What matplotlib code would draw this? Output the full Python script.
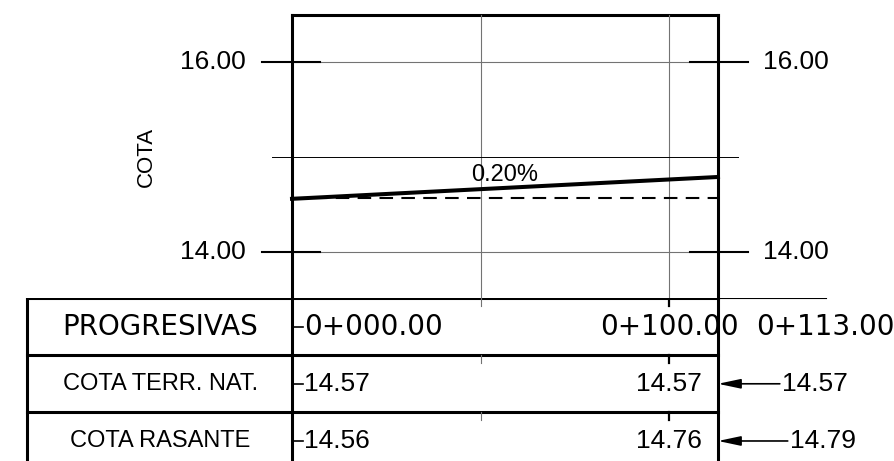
import matplotlib
matplotlib.use('Agg')
import matplotlib.pyplot as plt

# profile data (station in m, elevation in m)
stations = [0, 100, 113]
station_labels = ['0+000.00', '0+100.00', '0+113.00']
ground = [14.57, 14.57, 14.57]
grade = [14.56, 14.76, 14.79]
grade_text = '0.20%'
grid_stations = [50, 100]
elev_ticks = [14.0, 16.0]
elev_mid = 15.0
row_labels = ['PROGRESIVAS', 'COTA TERR. NAT.', 'COTA RASANTE']

NARROW = ['Liberation Sans', 'DejaVu Sans']
WIDE = ['DejaVu Sans']
GRAY = '0.45'

# layout (station units across the whole figure width)
x_lo, x_hi = -77.46, 159.95
end = stations[-1]

fig = plt.figure(figsize=(8.95, 4.61), dpi=100)
ax = fig.add_axes([0, 163 / 461, 1, 298 / 461])
tb = fig.add_axes([0, 0, 1, 163 / 461])
for a in (ax, tb):
    a.set_xlim(x_lo, x_hi)
    a.axis('off')
ax.set_ylim(13.516, 16.653)
tb.set_ylim(2.85, 0)
top = 16.495

# ---- profile box ----
ax.plot([0, end], [top, top], color='k', lw=2.2, solid_capstyle='projecting')
for s in grid_stations:
    ax.plot([s, s], [13.516, top], color=GRAY, lw=0.8)
for e in elev_ticks:
    ax.plot([0, end], [e, e], color=GRAY, lw=0.8)
    ax.plot([-7.96, 7.43], [e, e], color='k', lw=1.5)
    ax.plot([105.6, 121.0], [e, e], color='k', lw=1.5)
    ax.text(-12.2, e, f'{e:.2f}', ha='right', va='center', fontsize=19, family=NARROW)
    ax.text(125.0, e, f'{e:.2f}', ha='left', va='center', fontsize=19, family=NARROW)
ax.plot([-5.3, 118.3], [elev_mid, elev_mid], color='k', lw=0.7)
ax.text(-38.5, elev_mid, 'COTA', rotation=90, ha='center', va='center', fontsize=16, family=NARROW)

ax.plot([stations[0], stations[-1]], [ground[0], ground[-1]], color='k', lw=1.5, dashes=(6.5, 4))
ax.plot([stations[0], stations[-1]], [grade[0], grade[-1]], color='k', lw=2.9)
ax.text(56.5, 14.745, grade_text, ha='center', va='baseline', fontsize=17, family=NARROW)

# ---- table ----
tb.plot([-70.3, end], [0, 0], color='k', lw=2.2)
tb.plot([end, 141.6], [0, 0], color='k', lw=0.8)
for r in (1, 2):
    tb.plot([-70.3, end], [r, r], color='k', lw=2.2)
tb.plot([-70.3, -70.3], [0, 2.85], color='k', lw=2.2)
for s in (0, end):
    tb.plot([s, s], [0, 2.85], color='k', lw=2.2)
    ax.plot([s, s], [13.516, top], color='k', lw=2.2)
for s in grid_stations:
    col = 'k' if s == 100 else GRAY
    w = 1.6 if s == 100 else 0.8
    for r in range(3):
        tb.plot([s, s], [r, r + 0.14], color=col, lw=w)

for r, lab in enumerate(row_labels):
    tb.text(-35.0, r + 0.5, lab, ha='center', va='center',
            fontsize=20 if r == 0 else 17, family=WIDE if r == 0 else NARROW)

# first station: leader + text
tb.plot([0, 3.0], [0.5, 0.5], color='k', lw=1.2)
tb.text(3.2, 0.5, station_labels[0], ha='left', va='center', fontsize=20, family=WIDE)
tb.text(stations[1], 0.5, station_labels[1], ha='center', va='center', fontsize=20, family=WIDE)
tb.text(123.1, 0.5, station_labels[2], ha='left', va='center', fontsize=20, family=WIDE)

for r, vals, tail in ((1, ground, 129.4), (2, grade, 131.5)):
    y = r + 0.5
    tb.plot([0, 3.0], [y, y], color='k', lw=1.2)
    tb.text(3.2, y, f'{vals[0]:.2f}', ha='left', va='center', fontsize=19, family=NARROW)
    tb.text(stations[1], y, f'{vals[1]:.2f}', ha='center', va='center', fontsize=19, family=NARROW)
    tb.annotate('', xy=(end, y), xytext=(tail, y),
                arrowprops=dict(arrowstyle='-|>,head_length=1.37,head_width=0.29',
                                mutation_scale=10, color='k', lw=1.2,
                                shrinkA=0, shrinkB=0))
    tb.text(tail + 0.5, y, f'{vals[2]:.2f}', ha='left', va='center', fontsize=19, family=NARROW)

fig.savefig('out.png', dpi=100)
plt.close(fig)
